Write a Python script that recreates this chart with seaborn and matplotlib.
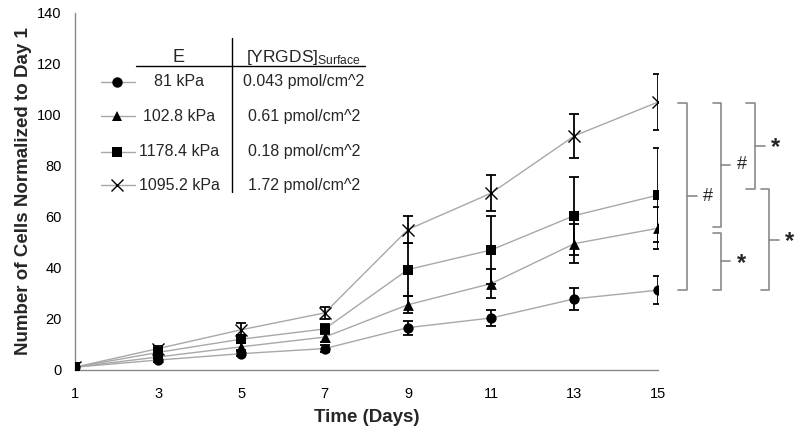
import matplotlib
matplotlib.use("Agg")
import matplotlib.pyplot as plt
import matplotlib.transforms as mtransforms
import seaborn as sns
import pandas as pd
import numpy as np

# ---------------- data ----------------
days = [1, 3, 5, 7, 9, 11, 13, 15]
series_names = ["81 kPa", "102.8 kPa", "1178.4 kPa", "1095.2 kPa"]
surface_conc = ["0.043 pmol/cm^2", "0.61 pmol/cm^2", "0.18 pmol/cm^2", "1.72 pmol/cm^2"]

mean_81 = [1, 3.8, 6.3, 8.3, 16.5, 20.3, 27.8, 31.2]
err_81 = [0.3, 0.8, 1.0, 1.3, 2.8, 3.2, 4.3, 5.6]
mean_102 = [1, 5.0, 9.0, 12.8, 25.5, 33.8, 49.5, 55.5]
err_102 = [0.3, 0.9, 1.3, 1.8, 3.3, 5.6, 7.6, 8.2]
mean_1178 = [1, 6.8, 12.0, 16.0, 39.3, 47.0, 60.5, 68.5]
err_1178 = [0.3, 1.0, 1.5, 2.0, 10.5, 13.4, 15.3, 18.4]
mean_1095 = [1, 8.3, 15.7, 22.3, 55.0, 69.3, 91.8, 105.0]
err_1095 = [0.3, 1.0, 2.5, 2.5, 5.2, 7.0, 8.6, 11.0]

x_ticks = [1, 3, 5, 7, 9, 11, 13, 15]
y_ticks = [0, 20, 40, 60, 80, 100, 120, 140]

# significance brackets (labels)
sig_labels = ["#", "#", "*", "*", "*"]

means = [mean_81, mean_102, mean_1178, mean_1095]
errs = [err_81, err_102, err_1178, err_1095]

rows = []
for name, m, e in zip(series_names, means, errs):
    for d, v, ee in zip(days, m, e):
        rows.append({"day": d, "value": v, "err": ee, "series": name})
df = pd.DataFrame(rows)

# ---------------- style ----------------
sns.set_style("white")
plt.rcParams["font.family"] = ["Liberation Sans", "DejaVu Sans"]
plt.rcParams["mathtext.fontset"] = "custom"
plt.rcParams["mathtext.rm"] = "Liberation Sans"
plt.rcParams["mathtext.it"] = "Liberation Sans:italic"
plt.rcParams["mathtext.bf"] = "Liberation Sans:bold"

GRAY_LINE = "#a8a8a8"
GRAY_AX = "#8a8a8a"

fig = plt.figure(figsize=(8, 4.32), dpi=100)
ax = fig.add_axes([75 / 800, 1 - 369.7 / 432, 582.7 / 800, 356.7 / 432])

# connecting lines
sns.lineplot(data=df, x="day", y="value", hue="series", hue_order=series_names,
             palette=[GRAY_LINE] * 4, legend=False, linewidth=1.0, ax=ax,
             errorbar=None, zorder=2)

# error bars
for name, m, e in zip(series_names, means, errs):
    ax.errorbar(days, m, yerr=e, fmt="none", ecolor="black", elinewidth=1.3,
                capsize=3.8, capthick=1.3, zorder=3)

# markers
marker_map = {"81 kPa": "o", "102.8 kPa": "^", "1178.4 kPa": "s", "1095.2 kPa": "x"}
size_map = {"81 kPa": 55, "102.8 kPa": 60, "1178.4 kPa": 50, "1095.2 kPa": 75}
draw_order = ["81 kPa", "102.8 kPa", "1095.2 kPa", "1178.4 kPa"]
for name in draw_order:
    sub = df[df["series"] == name]
    if marker_map[name] == "x":
        sns.scatterplot(data=sub, x="day", y="value", marker="x", s=size_map[name],
                        color="black", linewidth=1.0, ax=ax, zorder=4, legend=False)
    else:
        sns.scatterplot(data=sub, x="day", y="value", marker=marker_map[name],
                        s=size_map[name], color="black", edgecolor="black",
                        linewidth=0, ax=ax, zorder=4, legend=False)

ax.set_xlim(1, 15)
ax.set_ylim(0, 140)
ax.set_xticks(x_ticks)
ax.set_yticks(y_ticks)
ax.set_xticklabels([str(t) for t in x_ticks])
ax.set_yticklabels([str(t) for t in y_ticks])
for s in ["top", "right"]:
    ax.spines[s].set_visible(False)
for s in ["left", "bottom"]:
    ax.spines[s].set_color(GRAY_AX)
    ax.spines[s].set_linewidth(1.0)
ax.tick_params(axis="both", direction="out", length=3.5, width=1.0, color=GRAY_AX,
               labelsize=10.5, labelcolor="black", pad=6)
ax.tick_params(axis="x", pad=9)
ax.set_xlabel("Time (Days)", fontsize=13.5, fontweight="bold", labelpad=6)
ax.set_ylabel("Number of Cells Normalized to Day 1", fontsize=13.5, fontweight="bold",
              labelpad=4)
ax.grid(False)

# ---------------- legend table ----------------
tA = ax.transAxes
ax.plot([0.1047, 0.4977], [0.8514, 0.8514], color="black", lw=1.0, transform=tA,
        clip_on=False)
ax.plot([0.2689, 0.2689], [0.4982, 0.9299], color="black", lw=1.0, transform=tA,
        clip_on=False)
ax.text(0.1768, 0.862, "E", transform=tA, ha="center", va="baseline", fontsize=13)
ax.text(0.3913, 0.862, r"[YRGDS]$_{\mathrm{Surface}}$", transform=tA, ha="center",
        va="baseline", fontsize=12.5)
row_y = [0.8074, 0.7112, 0.6112, 0.5178]
for name, conc, ry in zip(series_names, surface_conc, row_y):
    ax.plot([0.0441, 0.1030], [ry, ry], color=GRAY_LINE, lw=1.0, transform=tA,
            clip_on=False)
    mk = marker_map[name]
    if mk == "x":
        ax.plot([0.0726], [ry], marker="x", ms=8.5, mew=1.0, color="black",
                transform=tA, clip_on=False)
    else:
        ax.plot([0.0726], [ry], marker=mk, ms=7.5, mew=0, color="black",
                transform=tA, clip_on=False)
    ax.text(0.1785, ry, name, transform=tA, ha="center", va="center", fontsize=11.5)
    ax.text(0.3930, ry, conc, transform=tA, ha="center", va="center", fontsize=11.5)

# ---------------- significance brackets ----------------
bt = mtransforms.blended_transform_factory(ax.transAxes, ax.transData)
y_x = mean_1095[-1] - 0.2
y_c = mean_81[-1] + 0.1
y_t_hi = mean_102[-1] + 0.7
y_t_lo = mean_102[-1] - 1.7
y_s = mean_1178[-1] + 2.4

# (vertical x, cap left x, tick right x, label x, y_top, y_bottom)
brackets = [
    (1.0508, 1.0354, 1.0680, 1.0863, y_x, y_c),
    (1.1086, 1.0944, 1.1240, 1.1442, y_x, y_t_hi),
    (1.1086, 1.0944, 1.1240, 1.1442, y_t_lo, y_c),
    (1.1670, 1.1516, 1.1842, 1.2030, y_x, y_s),
    (1.1915, 1.1768, 1.2087, 1.2270, y_s, y_c),
]
for (vx, cx, tx, lx, yt, yb), lab in zip(brackets, sig_labels):
    ax.plot([cx, vx, vx, cx], [yt, yt, yb, yb], color=GRAY_AX, lw=1.2,
            transform=bt, clip_on=False)
    ym = (yt + yb) / 2
    ax.plot([vx, tx], [ym, ym], color=GRAY_AX, lw=1.2, transform=bt, clip_on=False)
    if lab == "*":
        ax.text(lx, ym - 0.8, lab, transform=bt, ha="center", va="center",
                fontsize=17, fontweight="bold")
    else:
        ax.text(lx, ym, lab, transform=bt, ha="center", va="center", fontsize=13)

fig.savefig("out.png", dpi=100)
